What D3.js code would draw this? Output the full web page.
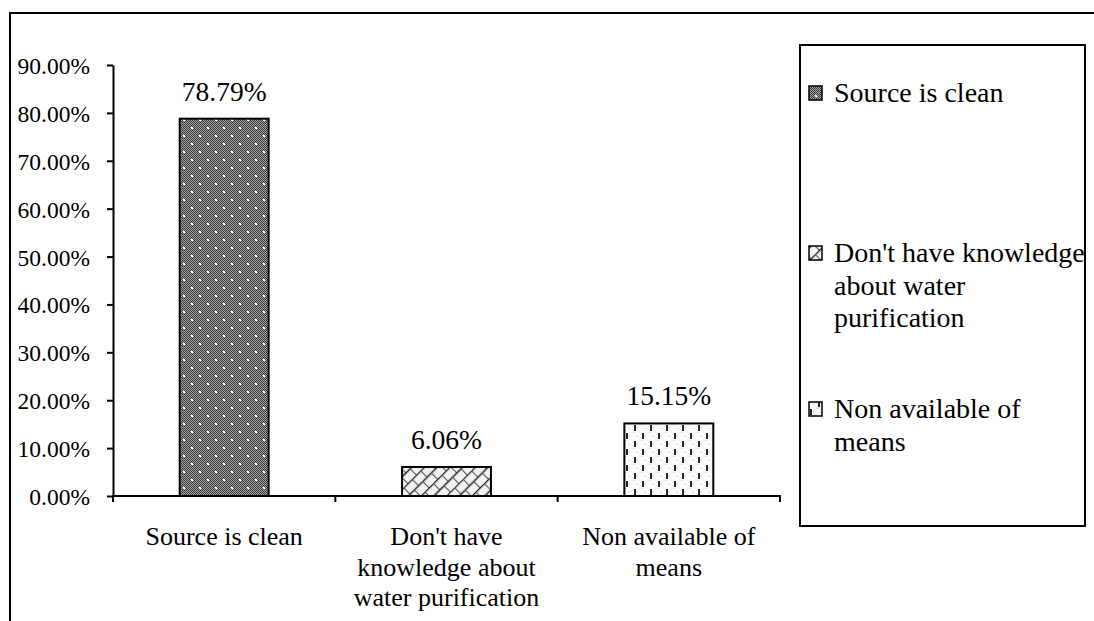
<!DOCTYPE html>
<html>
<head>
<meta charset="utf-8">
<script src="https://cdn.jsdelivr.net/npm/d3@7"></script>
<style>
  html, body { margin: 0; padding: 0; background: #fff; overflow: hidden; }
  svg { display: block; }
  text { font-family: "Liberation Serif", "Times New Roman", serif; fill: #000; }
</style>
</head>
<body>
<svg id="chart" width="1094" height="621"></svg>
<script>
// Reasons for not purifying drinking water (share of respondents)
const categories = ["Source is clean", "Don't have knowledge about water purification", "Non available of means"];
const values = [0.7879, 0.0606, 0.1515];
const valueLabels = ["78.79%", "6.06%", "15.15%"];
const axisLabelLines = [["Source is clean"], ["Don't have", "knowledge about", "water purification"], ["Non available of", "means"]];
const legendLabelLines = [["Source is clean"], ["Don't have knowledge", "about water", "purification"], ["Non available of", "means"]];
const yTicks = [0, 0.1, 0.2, 0.3, 0.4, 0.5, 0.6, 0.7, 0.8, 0.9];
const patternIds = ["pat-dots", "pat-brick", "pat-dash"];

const svg = d3.select("#chart");
const W = 1094, H = 621;
const SERIF = '"Liberation Serif", "Times New Roman", serif';

// ---- fill patterns ----
const defs = svg.append("defs");

// dense grey checker with white dots
const p1 = defs.append("pattern").attr("id", "pat-dots").attr("patternUnits", "userSpaceOnUse")
  .attr("width", 16).attr("height", 16);
p1.append("rect").attr("width", 16).attr("height", 16).attr("fill", "#a4a4a4");
for (let i = 0; i < 16; i++) for (let j = 0; j < 16; j++) {
  if ((i + j) % 2 === 0) p1.append("rect").attr("x", i).attr("y", j).attr("width", 1).attr("height", 1).attr("fill", "#383838");
}
[[0, 0], [8, 8], [16, 0], [0, 16], [16, 16]].forEach(([x, y]) => {
  p1.append("rect").attr("x", x - 1).attr("y", y - 1).attr("width", 2).attr("height", 2).attr("fill", "#fff");
});

// diagonal brick
const p2 = defs.append("pattern").attr("id", "pat-brick").attr("patternUnits", "userSpaceOnUse")
  .attr("width", 12).attr("height", 18).attr("patternTransform", "rotate(-45)");
p2.append("rect").attr("width", 12).attr("height", 18).attr("fill", "#f2f2f2");
p2.append("line").attr("x1", 0).attr("x2", 12).attr("y1", 0.5).attr("y2", 0.5).attr("stroke", "#222").attr("stroke-width", 1.5);
p2.append("line").attr("x1", 0).attr("x2", 12).attr("y1", 9.5).attr("y2", 9.5).attr("stroke", "#222").attr("stroke-width", 1.5);
p2.append("line").attr("x1", 0.5).attr("x2", 0.5).attr("y1", 0).attr("y2", 9).attr("stroke", "#555").attr("stroke-width", 1.1);
p2.append("line").attr("x1", 6.5).attr("x2", 6.5).attr("y1", 9).attr("y2", 18).attr("stroke", "#555").attr("stroke-width", 1.1);

// vertical dashes on light dotted ground
const p3 = defs.append("pattern").attr("id", "pat-dash").attr("patternUnits", "userSpaceOnUse")
  .attr("width", 16).attr("height", 16);
p3.append("rect").attr("width", 16).attr("height", 16).attr("fill", "#fbfbfb");
[[5, 3], [13, 11], [5, 12], [13, 4], [1, 8], [9, 0]].forEach(([x, y]) => {
  p3.append("rect").attr("x", x).attr("y", y).attr("width", 1).attr("height", 1).attr("fill", "#c8c8c8");
});
p3.append("rect").attr("x", 2).attr("y", 1).attr("width", 2).attr("height", 6).attr("fill", "#222");
p3.append("rect").attr("x", 10).attr("y", 9).attr("width", 2).attr("height", 6).attr("fill", "#222");

// ---- outer frame ----
svg.append("rect").attr("x", 10).attr("y", 13).attr("width", W + 20).attr("height", H + 20)
  .attr("fill", "none").attr("stroke", "#000").attr("stroke-width", 2);

// ---- scales ----
const plot = { left: 113, right: 780, top: 65, bottom: 496 };
const x = d3.scaleBand().domain(categories).range([plot.left, plot.right]).paddingInner(0.6).paddingOuter(0.3);
const y = d3.scaleLinear().domain([0, 0.9]).range([plot.bottom, plot.top]);

// ---- y axis ----
const yAxis = svg.append("g").attr("transform", `translate(${plot.left},0)`)
  .call(d3.axisLeft(y).tickValues(yTicks).tickFormat(d3.format(".2%")).tickSize(6).tickSizeOuter(0).tickPadding(17));
yAxis.attr("font-family", null).attr("font-size", null).style("font-family", SERIF);
yAxis.select(".domain").attr("stroke-width", 2);
yAxis.selectAll(".tick line").attr("stroke-width", 2);
yAxis.selectAll(".tick text").style("font-family", SERIF).attr("font-size", 23.5).attr("dy", "0.36em");

// ---- bars ----
svg.append("g").selectAll("rect").data(categories).join("rect")
  .attr("x", d => x(d))
  .attr("y", (d, i) => y(values[i]))
  .attr("width", x.bandwidth())
  .attr("height", (d, i) => y(0) - y(values[i]))
  .attr("fill", (d, i) => `url(#${patternIds[i]})`)
  .attr("stroke", "#000").attr("stroke-width", 2);

// ---- x axis (ticks between categories) ----
const xAxisG = svg.append("g");
xAxisG.append("line").attr("x1", plot.left).attr("x2", plot.right).attr("y1", y(0)).attr("y2", y(0))
  .attr("stroke", "#000").attr("stroke-width", 2);
const boundaryX = [plot.left].concat(categories.slice(1).map((c, i) => (x(categories[i]) + x.bandwidth() + x(c)) / 2), [plot.right]);
xAxisG.selectAll("line.tk").data(boundaryX).join("line").attr("class", "tk")
  .attr("x1", d => d).attr("x2", d => d).attr("y1", y(0) - 1).attr("y2", y(0) + 6)
  .attr("stroke", "#000").attr("stroke-width", 2);

// category labels
categories.forEach((c, i) => {
  const cx = x(c) + x.bandwidth() / 2;
  const t = svg.append("text").attr("text-anchor", "middle").attr("font-size", 26)
    .attr("x", cx).attr("y", 545);
  axisLabelLines[i].forEach((line, k) => {
    t.append("tspan").attr("x", cx).attr("dy", k === 0 ? 0 : 30.5).text(line);
  });
});

// value labels
svg.append("g").selectAll("text").data(categories).join("text")
  .attr("text-anchor", "middle").attr("font-size", 27.5)
  .attr("x", d => x(d) + x.bandwidth() / 2)
  .attr("y", (d, i) => y(values[i]) - 18)
  .text((d, i) => valueLabels[i]);

// ---- legend ----
const legend = svg.append("g");
legend.append("rect").attr("x", 800).attr("y", 45).attr("width", 285).attr("height", 481)
  .attr("fill", "#fff").attr("stroke", "#000").attr("stroke-width", 2);
const legendBaselines = [102, 262, 418];
categories.forEach((c, i) => {
  const b = legendBaselines[i];
  legend.append("rect").attr("x", 809).attr("y", b - 16).attr("width", 13).attr("height", 14)
    .attr("fill", `url(#${patternIds[i]})`).attr("stroke", "#000").attr("stroke-width", 1.5);
  const t = legend.append("text").attr("font-size", 28).attr("x", 834).attr("y", b);
  legendLabelLines[i].forEach((line, k) => {
    t.append("tspan").attr("x", 834).attr("dy", k === 0 ? 0 : 32.5).text(line);
  });
});
</script>
</body>
</html>
